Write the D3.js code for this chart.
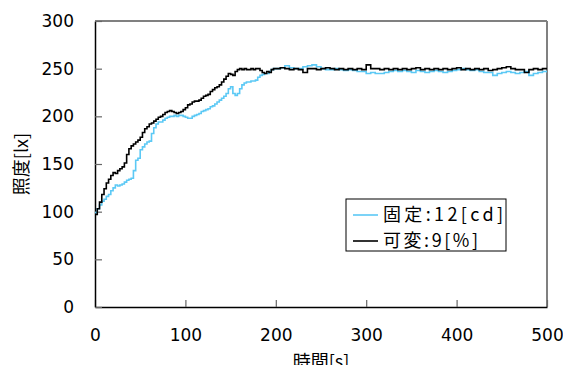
<!DOCTYPE html>
<html>
<head>
<meta charset="utf-8">
<script src="https://cdn.jsdelivr.net/npm/d3@7"></script>
<style>
  body { margin: 0; background: #fff; }
  svg { display: block; }
</style>
</head>
<body>
<div id="container"></div>
<script>
// sample times: every 2.5 s while rising, every 5 s after 200 s
let times = d3.range(0, 200, 2.5).concat(d3.range(200, 501, 5));

// 固定:12[cd]
let fixedLux = [
  // 0 - 197.5 s
  99, 103, 107, 111, 113, 116, 118, 122, 125, 128,
  127, 128, 129, 131, 133, 134, 135, 143, 154, 156,
  165, 168, 171, 173, 174, 182, 188, 192, 194, 194,
  196, 198, 199, 200, 200, 201, 200, 201, 201, 200,
  199, 198, 198, 200, 201, 202, 203, 205, 206, 207,
  208, 210, 211, 213, 215, 217, 219, 221, 224, 229,
  231, 224, 222, 224, 229, 233, 235, 236, 236, 237,
  237, 238, 241, 243, 244, 245, 245, 247, 249, 250,
  // 200 - 500 s
  250, 251, 253, 251, 250, 250, 252, 253, 254, 252,
  250, 249, 249, 250, 249, 248, 249, 248, 247, 247,
  245, 246, 245, 245, 246, 247, 248, 247, 248, 247,
  246, 248, 247, 246, 247, 248, 247, 246, 247, 248,
  249, 250, 249, 248, 249, 247, 246, 246, 243, 245,
  246, 247, 246, 245, 246, 247, 243, 245, 246, 247,
  246
];

// 可変:9[%]
let variableLux = [
  // 0 - 197.5 s
  97, 103, 110, 118, 124, 130, 134, 138, 141, 140,
  143, 145, 147, 151, 160, 166, 169, 171, 173, 175,
  178, 183, 187, 189, 192, 193, 195, 197, 199, 200,
  202, 204, 205, 206, 205, 204, 203, 204, 205, 207,
  209, 212, 213, 215, 216, 216, 217, 219, 221, 222,
  223, 226, 228, 230, 231, 233, 236, 239, 242, 245,
  244, 243, 247, 249, 250, 249, 250, 249, 249, 250,
  249, 250, 250, 248, 246, 245, 247, 246, 249, 250,
  // 200 - 500 s
  250, 251, 250, 249, 250, 249, 246, 250, 250, 249,
  250, 251, 250, 249, 250, 249, 250, 249, 250, 249,
  254, 250, 250, 249, 250, 249, 250, 249, 250, 249,
  250, 251, 249, 250, 249, 250, 249, 250, 249, 250,
  251, 249, 250, 249, 250, 249, 250, 248, 249, 250,
  251, 252, 250, 249, 249, 246, 249, 250, 249, 250,
  249
];

let xTicks = [0, 100, 200, 300, 400, 500];
let yTicks = [0, 50, 100, 150, 200, 250, 300];

let seriesNames = ["固定:12[cd]", "可変:9[%]"];
let seriesColors = ["#5cc9f5", "#000000"];

let w = 563;
let h = 365;
let padLeft = 95, padRight = 547, padTop = 21, padBottom = 307;

let viz = d3.select("#container")
  .append("svg")
    .attr("width", w)
    .attr("height", h)
;

let xScale = d3.scaleLinear().domain([0, 500]).range([padLeft, padRight]);
let yScale = d3.scaleLinear().domain([0, 300]).range([padBottom, padTop]);

// grey frame on top and right
viz.append("line")
  .attr("x1", padLeft).attr("x2", padRight).attr("y1", padTop).attr("y2", padTop)
  .attr("stroke", "#808080").attr("stroke-width", 2);
viz.append("line")
  .attr("x1", padRight).attr("x2", padRight).attr("y1", padTop).attr("y2", padBottom)
  .attr("stroke", "#808080").attr("stroke-width", 2);

let xAxis = d3.axisBottom(xScale).tickValues(xTicks).tickSize(-7).tickPadding(22).tickSizeOuter(0);
let xAxisGroup = viz.append("g")
    .attr("class", "xaxisgroup")
    .attr("transform", "translate(0," + padBottom + ")")
    .call(xAxis);

let yAxis = d3.axisLeft(yScale).tickValues(yTicks).tickSize(-7).tickPadding(21).tickSizeOuter(0);
let yAxisGroup = viz.append("g")
    .attr("class", "yaxisgroup")
    .attr("transform", "translate(" + padLeft + ",0)")
    .call(yAxis);

viz.selectAll(".xaxisgroup .domain, .yaxisgroup .domain")
  .attr("stroke", "#000").attr("stroke-width", 1.5);
viz.selectAll(".tick line").attr("stroke", "#666").attr("stroke-width", 1.2);
viz.selectAll(".tick text")
  .attr("fill", "#000")
  .style("font-family", "'DejaVu Sans', sans-serif")
  .style("font-size", "17px");

// axis titles
viz.append("text")
  .attr("x", (padLeft + padRight) / 2)
  .attr("y", 368)
  .attr("text-anchor", "middle")
  .style("font-family", "'Noto Sans CJK JP', sans-serif")
  .style("font-size", "18px")
  .text("時間[s]");

viz.append("text")
  .attr("transform", "translate(28," + ((padTop + padBottom) / 2) + ") rotate(-90)")
  .attr("text-anchor", "middle")
  .style("font-family", "'Noto Sans CJK JP', sans-serif")
  .style("font-size", "18px")
  .text("照度[lx]");

// lines
let series = [fixedLux, variableLux].map(function(vals){
  return vals.map(function(v, i){ return { t: times[i], v: v }; });
});

let lineMaker = d3.line()
  .x(function(d){ return xScale(d.t); })
  .y(function(d){ return yScale(d.v); })
  .curve(d3.curveStepAfter);

viz.append("clipPath").attr("id", "plotclip")
  .append("rect")
    .attr("x", padLeft).attr("y", padTop)
    .attr("width", padRight - padLeft).attr("height", padBottom - padTop);

viz.append("g").attr("clip-path", "url(#plotclip)")
  .selectAll(".line").data(series).enter()
  .append("path")
    .attr("class", "line")
    .attr("d", lineMaker)
    .attr("fill", "none")
    .attr("stroke", function(d, i){ return seriesColors[i]; })
    .attr("stroke-width", 1.6);

// legend
let legend = viz.append("g").attr("transform", "translate(346,199)");
legend.append("rect")
  .attr("width", 160).attr("height", 52)
  .attr("fill", "#fff").attr("stroke", "#000").attr("stroke-width", 1);

let legendWidths = [120, 95];
seriesNames.forEach(function(name, i){
  let yy = 16 + i * 26;
  legend.append("line")
    .attr("x1", 7).attr("x2", 32).attr("y1", yy).attr("y2", yy)
    .attr("stroke", seriesColors[i]).attr("stroke-width", 1.6);
  legend.append("text")
    .attr("x", 37).attr("y", yy + 6)
    .attr("textLength", legendWidths[i])
    .attr("lengthAdjust", "spacing")
    .style("font-family", "'Noto Sans CJK JP', sans-serif")
    .style("font-size", "18px")
    .text(name);
});
</script>
</body>
</html>
